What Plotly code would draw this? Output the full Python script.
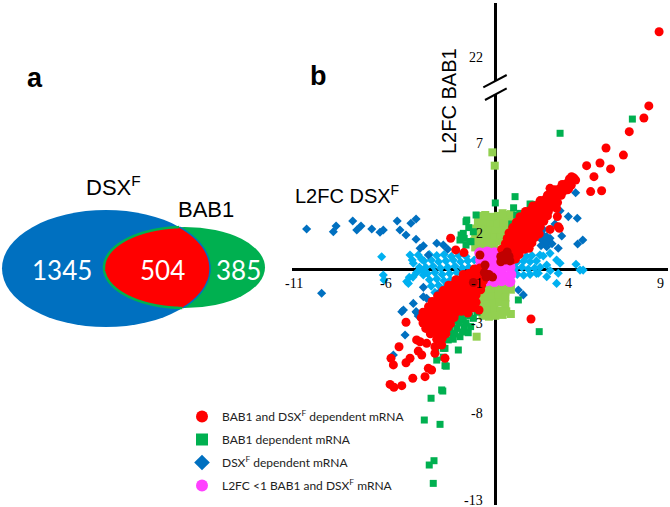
import numpy as np
import plotly.graph_objects as go

W, H = 670, 507

# ---------------- data ----------------
venn_counts = [1345, 504, 385]
venn_sets = ["DSX<sup>F</sup>", "BAB1"]

x_tick_vals = [-11, -6, -1, 4, 9]
y_tick_vals = [2, 7, -3, -8, -13]
y_top_tick_vals = [22]

legend_names = [
    "BAB1 and DSX<sup>F</sup> dependent mRNA",
    "BAB1 dependent mRNA",
    "DSX<sup>F</sup> dependent mRNA",
    "L2FC <1 BAB1 and DSX<sup>F</sup> mRNA",
]

# BAB1 and DSXF dependent (red circles)
red_pts = [
    (8.39, 9.06), (8.12, 8.39), (7.32, 7.63), (7.00, 6.33), (6.05, 6.72), (5.72, 5.89), (6.30, 5.56),
    (4.99, 5.74), (5.39, 5.13), (5.21, 4.30), (5.81, 4.35), (4.17, 5.13), (4.39, 4.94), (2.99, 4.48),
    (4.01, 4.46), (3.39, 2.91), (3.50, 2.26), (2.99, 2.20), (3.35, 3.37), (3.44, 2.35),
    (4.05, 5.0), (4.3, 5.05), (3.65, 4.7), (3.9, 4.75), (4.15, 4.65),
    (3.25, 4.4), (3.5, 4.45), (3.75, 4.35), (3.95, 4.4),
    (2.85, 4.1), (3.1, 4.15), (3.35, 4.05), (3.6, 4.1),
    (2.45, 3.8), (2.7, 3.85), (2.95, 3.75), (3.2, 3.8), (3.4, 3.7),
    (2.05, 3.5), (2.3, 3.55), (2.55, 3.45), (2.8, 3.5), (3.05, 3.45), (3.2, 3.55),
    (1.65, 3.2), (1.9, 3.25), (2.15, 3.15), (2.4, 3.2), (2.65, 3.15), (2.9, 3.2),
    (1.35, 2.9), (1.6, 2.95), (1.85, 2.85), (2.1, 2.9), (2.35, 2.85), (2.6, 2.9), (2.85, 2.95),
    (1.15, 2.6), (1.4, 2.65), (1.65, 2.55), (1.9, 2.6), (2.15, 2.55), (2.4, 2.6), (2.65, 2.65),
    (0.95, 2.3), (1.2, 2.35), (1.45, 2.25), (1.7, 2.3), (1.95, 2.25), (2.2, 2.3), (2.45, 2.35),
    (0.75, 2.0), (1.0, 2.05), (1.25, 1.95), (1.5, 2.0), (1.75, 1.95), (2.0, 2.0), (2.25, 2.05), (2.4, 1.95),
    (0.65, 1.7), (0.9, 1.75), (1.15, 1.65), (1.4, 1.7), (1.65, 1.65), (1.9, 1.7), (2.15, 1.75),
    (0.55, 1.4), (0.8, 1.45), (1.05, 1.35), (1.3, 1.4), (1.55, 1.35), (1.8, 1.4), (2.0, 1.45),
    (0.35, 1.1), (0.6, 1.15), (0.85, 1.05), (1.1, 1.1), (1.35, 1.05), (1.6, 1.1), (1.85, 1.15),
    (0.55, 0.8), (0.8, 0.85), (1.05, 0.75), (1.3, 0.8), (0.9, 0.5), (1.1, 0.55),
    (-1.15, 0.0), (-0.85, 0.05),
    (-1.75, -0.3), (-1.45, -0.25), (-1.15, -0.35), (-0.85, -0.3), (-0.6, -0.25),
    (-2.15, -0.6), (-1.85, -0.55), (-1.55, -0.65), (-1.25, -0.6), (-0.95, -0.55), (-0.65, -0.65),
    (-2.55, -0.9), (-2.25, -0.85), (-1.95, -0.95), (-1.65, -0.9), (-1.35, -0.85), (-1.05, -0.95), (-0.75, -0.9),
    (-2.85, -1.2), (-2.55, -1.15), (-2.25, -1.25), (-1.95, -1.2), (-1.65, -1.15), (-1.35, -1.25), (-1.05, -1.2), (-0.8, -1.15),
    (-3.15, -1.5), (-2.85, -1.45), (-2.55, -1.55), (-2.25, -1.5), (-1.95, -1.45), (-1.65, -1.55), (-1.35, -1.5), (-1.05, -1.45),
    (-3.45, -1.8), (-3.15, -1.75), (-2.85, -1.85), (-2.55, -1.8), (-2.25, -1.75), (-1.95, -1.85), (-1.65, -1.8), (-1.35, -1.75), (-1.05, -1.85),
    (-3.65, -2.1), (-3.35, -2.05), (-3.05, -2.15), (-2.75, -2.1), (-2.45, -2.05), (-2.15, -2.15), (-1.85, -2.1), (-1.55, -2.05), (-1.2, -2.15),
    (-3.95, -2.4), (-3.65, -2.35), (-3.35, -2.45), (-3.05, -2.4), (-2.75, -2.35), (-2.45, -2.45), (-2.15, -2.4), (-1.85, -2.35), (-1.5, -2.45),
    (-4.05, -2.7), (-3.75, -2.65), (-3.45, -2.75), (-3.15, -2.7), (-2.85, -2.65), (-2.55, -2.75), (-2.25, -2.7),
    (-3.95, -3.0), (-3.65, -2.95), (-3.35, -3.05), (-3.05, -3.0), (-2.75, -2.95), (-2.45, -3.05),
    (-3.8, -3.3), (-3.5, -3.25), (-3.2, -3.35), (-2.9, -3.3), (-2.6, -3.25),
    (-3.55, -3.6), (-3.25, -3.55), (-2.95, -3.65), (-2.7, -3.6),
    (-3.2, -3.9), (-2.9, -3.85),
    (-2.44, 1.71), (-2.16, 1.06), (-1.71, 0.91), (1.95, -2.78), (-0.89, -2.28),
    (-4.88, -2.96), (-5.26, -4.32), (-5.70, -4.96), (-5.57, -5.33), (-4.30, -3.94), (-4.11, -4.04),
    (-3.75, -4.13), (-4.21, -4.56), (-4.02, -4.78), (-4.66, -4.96), (-4.88, -5.21), (-3.30, -4.32),
    (-2.93, -4.22), (-3.30, -4.68), (-2.75, -4.96), (-3.66, -5.52), (-3.48, -5.61), (-3.84, -5.98),
    (-4.51, -6.07), (-5.75, -6.41), (-5.54, -6.57), (-5.11, -6.48),
]
# point above the axis break
red_top_pts = [(8.95, 23.4)]

# darker red circles near the origin
darkred_pts = [
    (0.3, 0.4), (0.55, 0.5), (0.75, 0.7), (0.45, 0.75), (0.65, 0.95), (0.8, 0.45), (0.3, 0.7),
    (-0.84, 0.78), (-0.56, 0.22), (-0.6, -0.2), (-0.35, -0.3), (-0.15, -0.45), (-0.5, -0.45), (-1.2, -0.75),
]

# L2FC < 1 (magenta circles)
magenta_pts = [
    (-0.85, -0.7), (-0.45, -0.65), (-0.05, -0.7), (0.35, -0.65), (0.8, -0.7),
    (-0.8, -0.3), (-0.4, -0.25), (0.0, -0.3), (0.4, -0.35), (0.85, -0.3),
    (-0.85, 0.1), (-0.45, 0.15), (-0.05, 0.1), (0.35, 0.05), (0.8, 0.1),
    (-0.8, 0.5), (-0.4, 0.55), (0.0, 0.5), (0.4, 0.45), (0.85, 0.5),
    (-0.85, 0.9), (-0.45, 0.95), (-0.05, 0.9), (0.35, 0.95), (0.75, 0.9),
]

# BAB1 dependent (green squares)
green_pts = [
    (1.08, 4.02), (3.54, 7.54), (7.49, 8.33), (1.9, 3.61), (3.0, 4.17), (1.35, 3.09), (-1.56, 2.72),
    (-1.93, 1.61), (-1.75, 1.98), (-1.38, 1.52), (-1.6, 2.63), (-1.05, 3.0), (-1.87, 1.89), (-1.2, 2.07),
    (-1.33, 1.52), (-1.6, 1.33), (0.0, 3.67), (1.48, 2.72), (1.35, 1.98), (2.62, 3.18), (1.17, 3.0),
    (1.99, 3.59), (-1.45, 2.3), (-1.7, 1.7), (0.9, 2.5), (1.0, 3.4),
    (1.26, -1.72), (2.4, -3.48), (-2.87, -6.78), (-3.51, -7.18), (-3.88, -8.39), (-3.02, -8.63),
    (-3.61, -10.89), (-3.35, -10.65), (-3.39, -11.91), (-2.75, -5.37), (-3.2, -5.06), (-2.75, -4.41),
    (-3.26, -4.56), (-2.93, -3.94), (-2.57, -3.94), (-2.11, -3.3), (-1.93, -3.76), (-1.48, -3.54),
    (-2.38, -3.02), (-1.75, -2.83), (-1.56, -2.46), (-1.2, -2.74), (-1.29, -2.09), (-3.11, -3.67),
    (-2.02, -4.5), (-2.84, -4.41), (-2.84, -4.9), (-2.68, -5.4), (-2.93, -6.72), (-2.3, -3.6),
    (-1.7, -3.2), (-1.0, -2.4), (-1.1, -2.0), (-2.5, -3.3), (-2.2, -3.6), (-2.0, -3.0), (-1.8, -3.5),
    (-1.6, -3.0), (-1.4, -2.6), (-2.3, -3.9), (-1.9, -2.7), (-2.15, -2.85), (-1.35, -3.2),
]

# light green squares
lightgreen_pts = [
    (-1.1, 1.2), (-0.75, 1.2), (-0.4, 1.25), (-0.05, 1.2),
    (-1.15, 1.55), (-0.8, 1.55), (-0.45, 1.6), (-0.1, 1.5), (0.25, 1.55), (0.55, 1.5),
    (-1.1, 1.9), (-0.75, 1.95), (-0.4, 1.9), (-0.05, 1.85), (0.3, 1.9), (0.6, 1.95),
    (-1.05, 2.25), (-0.7, 2.3), (-0.35, 2.25), (0.0, 2.2), (0.35, 2.25), (0.7, 2.3),
    (-0.95, 2.6), (-0.6, 2.65), (-0.25, 2.6), (0.1, 2.55), (0.45, 2.6), (0.8, 2.65),
    (-0.9, 2.95), (-0.55, 3.0), (-0.2, 2.9), (0.15, 2.95), (0.5, 3.0), (0.85, 3.05),
    (-0.16, 6.48), (-0.03, 5.74), (0.4, 3.1),
    (-0.9, -0.85), (-0.55, -0.9), (-0.2, -0.85), (0.15, -0.9), (0.5, -0.85), (0.85, -0.9),
    (-0.85, -1.2), (-0.5, -1.25), (-0.15, -1.2), (0.2, -1.2), (0.55, -1.25), (0.85, -1.15),
    (-0.85, -1.55), (-0.5, -1.6), (-0.15, -1.55), (0.2, -1.5), (0.55, -1.6),
    (-0.8, -1.9), (-0.45, -1.95), (-0.1, -1.9), (0.25, -1.85), (0.55, -1.95),
    (-0.75, -2.25), (-0.4, -2.3), (-0.05, -2.25), (0.3, -2.3), (0.6, -2.35),
    (-0.7, -2.6), (-0.35, -2.65), (0.0, -2.6), (0.4, -2.55),
    (-1.02, -3.76), (0.53, -2.37), (0.85, -2.5),
]

# DSXF dependent (blue diamonds)
blue_pts = [
    (-10.31, 2.22), (-8.85, 2.07), (-8.7, 2.39), (-7.79, 2.67), (-7.57, 2.17), (-7.34, 2.39),
    (-6.75, 2.22), (-6.3, 2.04), (-6.12, 2.17), (-5.36, 2.67), (-5.21, 2.17), (-4.61, 2.54),
    (-4.33, 2.78), (-4.88, 1.89), (-4.33, 1.65), (-3.93, 1.29), (-4.11, 1.15), (-3.2, 1.43),
    (-2.84, 1.33), (-2.6, 1.1), (-3.66, 0.78),
    (-9.49, -1.35), (-5.02, -2.28), (-4.48, -1.91), (-4.33, -2.37), (-3.75, -1.63), (-3.39, -1.91),
    (-3.84, -2.83), (-3.53, -2.93), (-5.11, -2.37), (-4.3, -2.41), (-3.93, -1.54), (-4.93, -3.67),
    (-5.57, -4.78), (-3.93, -1.02), (-4.21, -2.61), (-3.48, -2.0), (-3.11, -1.35), (-2.57, -1.07),
    (4.39, 4.24), (3.54, 3.24), (3.99, 2.91), (4.48, 2.82), (3.26, 2.5), (3.63, 1.83), (3.44, 1.15),
    (2.62, 2.2), (2.54, 1.61), (2.81, 1.24), (4.5, 1.39), (4.78, 1.61), (2.99, 1.71),
    (2.6, 1.9), (2.8, 1.8), (2.9, 1.55), (3.1, 1.4), (2.7, 1.45), (2.5, 1.3),
    (1.26, -1.17), (1.53, -1.44),
]

# light blue diamonds
lightblue_pts = [
    (-3.6, 0.8), (-3.2, 0.75), (-2.8, 0.8), (-2.4, 0.7), (-2.0, 0.75), (-1.6, 0.7),
    (-3.9, 0.45), (-3.5, 0.5), (-3.1, 0.4), (-2.7, 0.45), (-2.3, 0.5), (-1.9, 0.4), (-1.5, 0.45), (-1.15, 0.5),
    (-3.8, 0.1), (-3.4, 0.15), (-3.0, 0.05), (-2.6, 0.1), (-2.2, 0.15), (-1.8, 0.05), (-1.45, 0.1),
    (-3.7, -0.25), (-3.3, -0.2), (-2.9, -0.3), (-2.5, -0.25), (-2.1, -0.2),
    (-3.6, -0.6), (-3.2, -0.55), (-2.8, -0.65), (-2.45, -0.6),
    (-3.5, -0.95), (-3.1, -0.9), (-2.75, -1.0),
    (-3.3, -1.3), (-2.95, -1.25),
    (-6.21, 0.68), (-6.12, -0.33), (-6.08, -0.61), (-4.66, 0.78), (-4.54, 0.5), (-4.48, 0.32),
    (-4.84, -0.7), (-4.02, 0.54), (-4.75, -0.8), (-4.21, 0.78), (-4.3, -0.2), (-4.15, 0.1),
    (-4.5, -0.45), (-4.7, -0.46), (-3.93, -0.33), (-4.0, -0.1),
    (1.2, 0.4), (1.55, 0.45), (1.9, 0.4), (2.25, 0.45), (1.1, 0.05), (1.45, 0.1), (1.8, 0.0),
    (2.15, 0.05), (2.45, 0.1), (1.2, -0.3), (1.55, -0.35), (1.9, -0.3), (2.25, -0.25),
    (2.44, 0.78), (2.81, 0.22), (3.35, 0.5), (4.41, 0.26), (4.63, -0.06), (4.8, -0.06),
    (2.81, -0.43), (3.35, -0.8), (2.62, 0.72), (3.0, -0.1), (3.54, 0.32), (2.0, 0.75),
    (1.7, 0.7), (3.44, -0.24), (2.35, -0.24), (2.99, 0.87),
]

# ---------------- helpers ----------------
def unzip(pts):
    return [p[0] for p in pts], [p[1] for p in pts]

def pxx(v):
    return v / W

def pxy(v):
    return 1 - v / H

C_RED = "#FF0000"
C_DRED = "#C00000"
C_GREEN = "#00B050"
C_LGREEN = "#92D050"
C_BLUE = "#0070C0"
C_LBLUE = "#00B0F0"
C_MAG = "#FF40FF"

fig = go.Figure()

def add(pts, color, symbol, size, name=None, rank=None, show=False, xa="x", ya="y", group=None):
    xs, ys = unzip(pts)
    fig.add_trace(go.Scatter(
        x=xs, y=ys, mode="markers", xaxis=xa, yaxis=ya,
        marker=dict(color=color, symbol=symbol, size=size, line=dict(width=0)),
        name=name or "", showlegend=show, legendrank=rank if rank else 1000,
        legendgroup=group,
    ))

add(lightblue_pts, C_LBLUE, "diamond", 7, group="z1")
add(blue_pts, C_BLUE, "diamond", 7, legend_names[2], 3, True, group="g3")
add(lightgreen_pts, C_LGREEN, "square", 8, group="z2")
add(green_pts, C_GREEN, "square", 7, legend_names[1], 2, True, group="g2")
add(magenta_pts, C_MAG, "circle", 11, legend_names[3], 4, True, group="g4")
add(red_pts, C_RED, "circle", 9, legend_names[0], 1, True, group="g1")
add(darkred_pts, C_DRED, "circle", 9, group="z3")
add(red_top_pts, C_RED, "circle", 9, xa="x2", ya="y2", group="z4")

# ---------------- axes geometry ----------------
ax_left, ax_right = 292, 668          # pixel extent of horizontal axis
x_range = [(ax_left - 495.3) / 18.3, (ax_right - 495.3) / 18.3]
low_top, low_bot = 94, 505
up_top, up_bot = 3, 81
y_range = [(269 - low_bot) / 18.0, (269 - low_top) / 18.0]
y2_range = [22 - (up_bot - 57) / 18.0, 22 + (57 - up_top) / 18.0]

axis_common = dict(showgrid=False, showticklabels=False, ticks="", showline=False,
                   zeroline=True, zerolinecolor="black", zerolinewidth=2.5, fixedrange=True)

fig.update_layout(
    width=W, height=H, autosize=False,
    margin=dict(l=0, r=0, t=0, b=0),
    paper_bgcolor="white", plot_bgcolor="rgba(0,0,0,0)",
    xaxis=dict(domain=[pxx(ax_left), pxx(ax_right)], range=x_range, anchor="y", **axis_common),
    yaxis=dict(domain=[pxy(low_bot), pxy(low_top)], range=y_range, anchor="x", **axis_common),
    xaxis2=dict(domain=[pxx(ax_left), pxx(ax_right)], range=x_range, anchor="y2", **axis_common),
    yaxis2=dict(domain=[pxy(up_bot), pxy(up_top)], range=y2_range, anchor="x2",
                **{**axis_common, "zeroline": False}),
    showlegend=True,
    legend=dict(x=pxx(182), y=pxy(402), xanchor="left", yanchor="top",
                font=dict(family="Lato", size=12, color="#222222"),
                bgcolor="rgba(0,0,0,0)", itemsizing="constant", tracegroupgap=4,
                traceorder="grouped"),
)

def note(x, y, text, font, xref="paper", yref="paper", xanchor="center", yanchor="middle",
         xshift=0, yshift=0, angle=0):
    fig.add_annotation(x=x, y=y, xref=xref, yref=yref, text=text, showarrow=False,
                       xanchor=xanchor, yanchor=yanchor, xshift=xshift, yshift=yshift,
                       textangle=angle, font=font)

# tick labels placed through the axes
tick_font = dict(family="Liberation Serif", size=14, color="black")
for v in x_tick_vals:
    note(v, 0, str(v), tick_font, "x", "y", "center", "top", yshift=-5)
for v in y_tick_vals:
    note(0, v, str(v), tick_font, "x", "y", "right", "middle", xshift=-10,
         yshift=3 if v == min(y_tick_vals) else 0)
for v in y_top_tick_vals:
    note(0, v, str(v), tick_font, "x2", "y2", "right", "middle", xshift=-10)

# axis break marks
for (x0, y0, x1, y1) in [(483.3, 87.3, 506.7, 75.0), (485.0, 100.0, 506.7, 88.3)]:
    fig.add_shape(type="line", xref="paper", yref="paper",
                  x0=pxx(x0), y0=pxy(y0), x1=pxx(x1), y1=pxy(y1),
                  line=dict(color="black", width=2))

# axis titles
sans = "Liberation Sans"
note(pxx(449), pxy(101), "L2FC BAB1", dict(family=sans, size=20, color="black"), angle=-90)
note(pxx(347), pxy(195), "L2FC DSX<sup>F</sup>", dict(family=sans, size=20, color="black"))

# panel letters
note(pxx(35), pxy(78), "<b>a</b>", dict(family=sans, size=27, color="black"))
note(pxx(318), pxy(76), "<b>b</b>", dict(family=sans, size=27, color="black"))

# ---------------- Venn diagram ----------------
bcx, bcy, brx, bry = 106, 268.5, 104, 58.5
gcx, gcy, grx, gry = 184.5, 267.5, 80.5, 40.5

fig.add_shape(type="circle", xref="paper", yref="paper", layer="above",
              x0=pxx(bcx - brx), x1=pxx(bcx + brx), y0=pxy(bcy + bry), y1=pxy(bcy - bry),
              fillcolor=C_BLUE, line=dict(width=0))
fig.add_shape(type="circle", xref="paper", yref="paper", layer="above",
              x0=pxx(gcx - grx), x1=pxx(gcx + grx), y0=pxy(gcy + gry), y1=pxy(gcy - gry),
              fillcolor=C_GREEN, line=dict(width=0))

tg = np.linspace(0, 2 * np.pi, 1441)
gxs, gys = gcx + grx * np.cos(tg), gcy + gry * np.sin(tg)
in_b = ((gxs - bcx) / brx) ** 2 + ((gys - bcy) / bry) ** 2 <= 1
garc = list(zip(gxs[in_b], gys[in_b]))
tb = np.linspace(-np.pi, np.pi, 1441)
bxs, bys = bcx + brx * np.cos(tb), bcy + bry * np.sin(tb)
in_g = ((bxs - gcx) / grx) ** 2 + ((bys - gcy) / gry) ** 2 <= 1
barc = list(zip(bxs[in_g], bys[in_g]))

def path_of(pts, close):
    s = "M " + " L ".join(f"{pxx(a):.5f},{pxy(b):.5f}" for a, b in pts)
    return s + (" Z" if close else "")

fig.add_shape(type="path", xref="paper", yref="paper", path=path_of(garc + barc, True),
              fillcolor=C_RED, line=dict(width=0))
fig.add_shape(type="path", xref="paper", yref="paper", path=path_of(garc, False),
              line=dict(color=C_GREEN, width=2.5))
fig.add_shape(type="path", xref="paper", yref="paper", path=path_of(barc, False),
              line=dict(color=C_BLUE, width=1.5))

num_font = dict(family="Lato", size=26, color="white")
for cx, n in zip([62, 162, 238], venn_counts):
    note(pxx(cx), pxy(270), str(n), num_font)
set_font = dict(family=sans, size=22, color="black")
for (cx, cy), t in zip([(113, 186), (206, 209)], venn_sets):
    note(pxx(cx), pxy(cy), t, set_font)

fig.write_html("out.html")
